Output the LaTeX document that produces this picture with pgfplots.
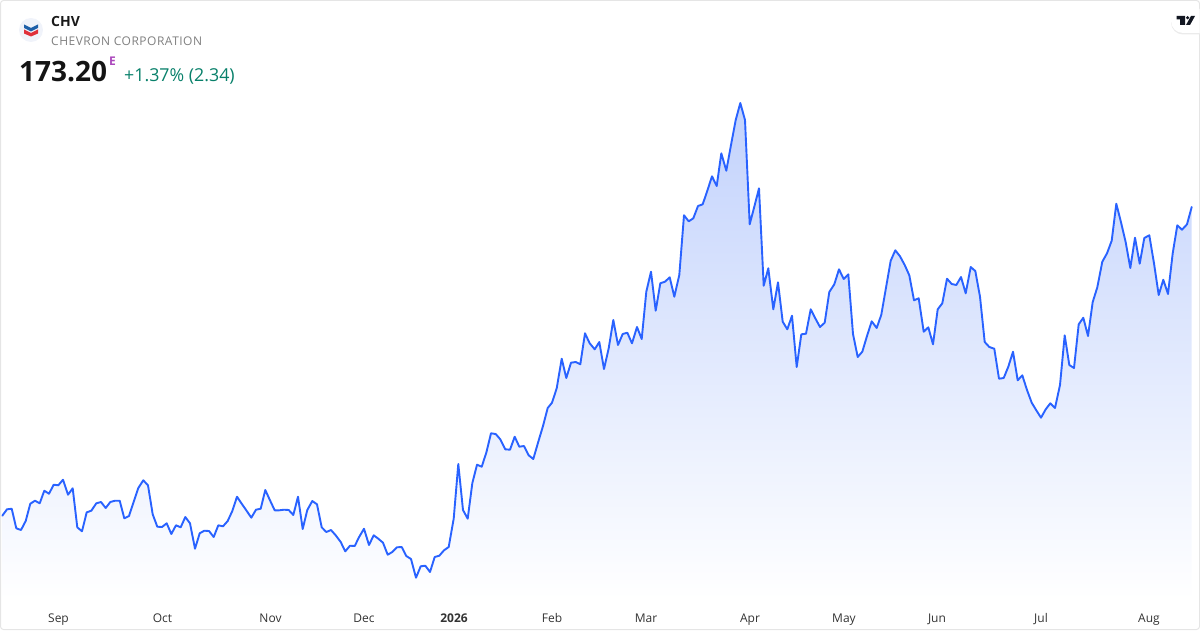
\documentclass[border=0pt]{standalone}
\usepackage{pgfplots}
\usepackage{pgfplotstable}
\usepackage{fontspec}
\pgfplotsset{compat=1.18}
\setmainfont{Open Sans}
\newfontfamily\spaced[LetterSpace=4.2]{Open Sans}
\definecolor{tvblue}{HTML}{2962FF}
\definecolor{fillTop}{HTML}{C2D2FC}
\definecolor{fillBot}{HTML}{FFFFFF}
\definecolor{logobg}{HTML}{F0F3FA}
\definecolor{logoblue}{HTML}{1D5FA8}
\definecolor{logored}{HTML}{E0303A}
\definecolor{tvblack}{HTML}{131722}
\definecolor{purpleE}{HTML}{AB47BC}
\definecolor{greenchg}{HTML}{08806A}
\pgfplotstableread{
x y
2.3 515.7
7 509.3
11.7 508.7
16.3 528.3
21 530
25.7 521
30.3 503.7
35 500.7
39.7 503.3
44.3 490.7
49 493.7
53.7 484.7
58.3 485.3
63 479.7
68 494.7
72.7 488.3
77.3 527.3
82 531.3
86.7 512.3
91.3 510.7
96.3 503.3
101 502
105.7 508
110.3 502
115 500.7
119.7 500.7
124.3 518.3
129 516
133.7 501.7
138.3 488
143.3 480.3
148 485.3
152.7 514.3
157.3 526.7
162 527
166.7 523.3
171.3 534
176 525.3
180.7 527.3
185.3 517
190 523.3
195 548.7
199.7 533.3
204.3 530.7
209 531
213.7 537
218.3 525.3
223 526.3
227.7 521
232.3 511
237 496.7
241.7 503.7
246.3 510.3
251.3 517.7
256 509.7
260.7 508.7
265.3 490
270 500.3
274.7 510.3
279.3 510.3
284 509.7
288.7 510
293.3 515
298 496.7
302.7 529
307.3 510
312.3 501
317 504.3
321.7 527.3
326.3 532
331 530
335.7 535.3
340.7 542
345.3 551.3
350 545.7
354.7 546
359.3 536.7
364 528.7
369 545
373.7 535.3
378.3 538.7
383 542.7
387.7 554.7
392.3 552
397 547.3
401.7 547
406.3 556
411 559
416 577.7
420.7 566.3
425.3 565.7
430 572
434.7 557
439.3 555.7
444 550.3
448.7 547
453.7 518.7
458.3 464
463 510
467.7 518.7
472.3 483.3
477 464.7
481.7 466.7
486.3 452.7
491 433.3
495.7 434
500.3 439.3
505.3 449.3
510 449.7
514.7 436.7
519.3 446.7
524 446
528.7 455.3
533.3 459
538.3 441.7
543 426
547.7 408
552 402.7
556.7 388.3
561.7 358.7
566.3 378
571 362.7
575.7 362
580.3 364.3
585 333.3
589.7 343.3
594.7 349.3
599.3 342
604 369
608.7 348.3
613.3 320
618 345
622.7 334
627.3 332.7
632 343.3
637 327
641.7 339
646.3 291.7
651 271.7
655.7 310.7
660.3 283.3
665 281.7
669.7 277.3
674.3 296.7
679.3 275
684 215.3
688.7 221.3
693.3 218.3
698 206
702.7 204.3
707.3 190.7
712 176.3
716.7 186
721.3 153.3
726.3 170.7
731 145
735.7 120
740.3 103
745 120
749.7 224.3
754.3 206.7
759 188.3
763.7 285.7
768.3 268.3
773.3 309.3
778 282.3
782.7 321.7
787.3 329.3
792 315.7
796.7 367
801.3 334.3
806 333.7
810.7 309.3
815.3 318.3
820 327
824.7 322.7
829.3 292
834.3 284.3
839 269.3
843.7 279
848.3 274.3
853 334
857.7 357
862.3 351.7
867 336
871.7 321.3
876.7 328
881.3 314.7
886 287.7
890.7 260.7
895.3 250.3
900 256.3
904.7 265
909.3 275.3
914 300.3
918.7 298.3
923.7 331.7
928.3 327.3
933 344.3
937.7 309.3
942.3 303.3
947 278.7
951.7 284
956.3 285
961 277
965.7 293.3
970.7 267
975.3 271
980 296.7
984.7 342
989.3 347
994.3 348.7
999 378.7
1003.7 378
1008.3 366.7
1013 351.7
1017.7 380.3
1022.3 375.3
1027 390
1031.7 402.7
1036.3 410.3
1041 417.7
1045.7 409.3
1050.3 403.3
1055 408
1060 385
1064.7 335.3
1069.3 365
1074 368
1078.7 324.3
1083.3 317.7
1088 336
1092.7 302
1097.3 287.3
1102.3 261.7
1107 253.3
1111.7 240.7
1116.3 203.7
1121 222.3
1125.7 242.3
1130.3 268
1135 237.7
1139.7 263.7
1144.3 238
1149.3 235.3
1154 263.3
1158.7 295
1163.3 279.7
1168 294
1172.7 253.3
1177.3 225.3
1182 229.7
1187 224.3
1191.7 207
}\price
\pgfplotstableread{
x y
1191.7 600
2.3 600
}\closure
\pgfplotstablevertcat{\areadata}{\price}
\pgfplotstablevertcat{\areadata}{\closure}
\begin{document}
\begin{tikzpicture}
\begin{axis}[
  name=main, scale only axis, width=1200pt, height=630pt,
  at={(0,0)}, anchor=south west,
  xmin=0, xmax=1200, ymin=0, ymax=630, y dir=reverse,
  axis line style={draw=none}, tick style={draw=none}, major tick length=0pt,
  ytick=\empty,
  xtick={58.5,162.5,270.5,364,454,552,646,750,844,937,1041,1149},
  xticklabels={Sep,Oct,Nov,Dec,\textbf{2026},Feb,Mar,Apr,May,Jun,Jul,Aug},
  xticklabel style={anchor=base, yshift=8pt, font=\fontsize{12}{14}\selectfont, text=black!80},
  clip=false,
]
\addplot[draw=none, top color=fillTop, bottom color=fillBot, forget plot]
  table[x=x,y=y] {\areadata};
\addplot[tvblue, line width=1.9pt, line join=round, line cap=round, mark=none] table[x=x,y=y] {\price};
\end{axis}
\begin{scope}[x=1pt,y=-1pt,yshift=630pt]
  \draw[rounded corners=3pt, color=black!10, line width=1pt] (0.5,0.5) rectangle (1199.5,629.5);
  % logo
  \fill[logobg] (31,30) circle (12);
  \fill[logoblue] (24,24.5) -- (31,28) -- (38,24.5) -- (38,28) -- (31,31.5) -- (24,28) -- cycle;
  \fill[logored] (24,29.5) -- (31,33) -- (38,29.5) -- (38,33.5) -- (31,36.5) -- (24,33.5) -- cycle;
  \node[anchor=base west, inner sep=0, text=black!90] at (51,27) {\fontsize{14}{16}\selectfont\bfseries CHV};
  \node[anchor=base west, inner sep=0, text=black!50] at (51,46) {\spaced\fontsize{12}{14}\selectfont CHEVRON CORPORATION};
  \node[anchor=base west, inner sep=0, text=black!92] at (19,82) {\fontsize{28}{32}\selectfont\bfseries 173.20};
  \node[anchor=base west, inner sep=0, text=purpleE] at (109,66) {\fontsize{12}{14}\selectfont\bfseries E};
  \node[anchor=base west, inner sep=0, text=greenchg] at (124,82) {\fontsize{17.8}{20}\selectfont +1.37\% (2.34)};
  % badge
  \fill[black!8] (1200,10.5) -- (1183,10.5) arc[start angle=270,end angle=90,radius=12] -- (1200,34.5) -- cycle;
  \fill[white] (1199.5,9) -- (1183,9) arc[start angle=270,end angle=90,radius=12] -- (1199.5,33) -- cycle;
  \fill[tvblack] (1176.7,16) -- (1185,16) -- (1185,25) -- (1180,25) -- (1180,19.3) -- (1176.7,19.3) -- cycle;
  \fill[tvblack] (1187.6,17.7) circle (1.7);
  \fill[tvblack] (1191,16) -- (1195,16) -- (1190,25) -- (1186,25) -- cycle;
\end{scope}
\end{tikzpicture}
\end{document}
